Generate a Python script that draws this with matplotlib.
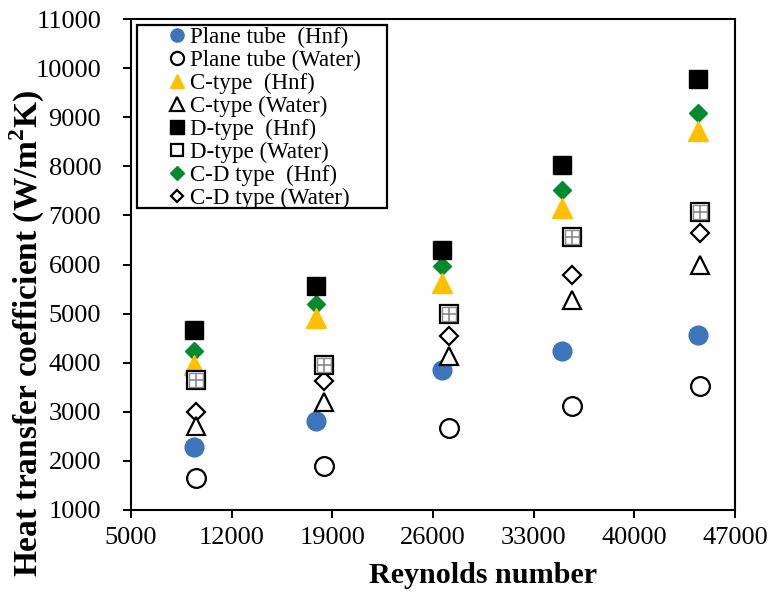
import matplotlib
matplotlib.use("Agg")
import matplotlib.pyplot as plt
from matplotlib.patches import Rectangle

plt.rcParams['font.family'] = ['Liberation Serif', 'DejaVu Serif']
plt.rcParams['mathtext.fontset'] = 'custom'
plt.rcParams['mathtext.rm'] = 'Liberation Serif'
plt.rcParams['mathtext.bf'] = 'Liberation Serif:bold'

re_hnf = [9350, 17850, 26600, 34950, 44450]
re_water = [9550, 18400, 27100, 35650, 44550]

plane_hnf = [2280, 2810, 3845, 4240, 4560]
plane_water = [1650, 1890, 2670, 3120, 3520]
c_hnf = [3950, 4920, 5630, 7150, 8720]
c_water = [2720, 3200, 4130, 5270, 5980]
d_hnf = [4660, 5560, 6300, 8020, 9780]
d_water = [3640, 3950, 5000, 6560, 7060]
cd_hnf = [4230, 5200, 5970, 7510, 9090]
cd_water = [2990, 3620, 4540, 5790, 6650]

labels = ["Plane tube  (Hnf)", "Plane tube (Water)", "C-type  (Hnf)", "C-type (Water)",
          "D-type  (Hnf)", "D-type (Water)", "C-D type  (Hnf)", "C-D type (Water)"]

xticks = [5000, 12000, 19000, 26000, 33000, 40000, 47000]
yticks = [1000, 2000, 3000, 4000, 5000, 6000, 7000, 8000, 9000, 10000, 11000]

blue = '#3C75B9'
gold = '#FFC000'
green = '#038A2F'

W, H = 771, 596
fig = plt.figure(figsize=(W / 100, H / 100), dpi=100)
ax = fig.add_axes([131 / W, 1 - 510 / H, 604 / W, 491 / H])

ms = 13.5
ew = 1.6
series = [
    (re_hnf, plane_hnf, dict(marker='o', color=blue, mec=blue, ms=ms)),
    (re_water, plane_water, dict(marker='o', mfc='white', mec='black', mew=ew, ms=ms)),
    (re_hnf, c_hnf, dict(marker='^', color=gold, mec=gold, ms=ms + 1)),
    (re_water, c_water, dict(marker='^', mfc='white', mec='black', mew=ew, ms=ms)),
    (re_hnf, d_hnf, dict(marker='s', color='black', mec='black', ms=ms)),
    (re_water, d_water, dict(marker='s', mfc='white', mec='black', mew=ew, ms=ms - 0.5)),
    (re_hnf, cd_hnf, dict(marker='D', color=green, mec=green, ms=ms - 4)),
    (re_water, cd_water, dict(marker='D', mfc='white', mec='black', mew=ew, ms=ms - 4.5)),
]

handles = []
order = [0, 1, 3, 7, 5, 6, 2, 4]
for i, (xs, ys, st) in enumerate(series):
    h, = ax.plot(xs, ys, linestyle='none', label=labels[i], zorder=3 + order[i], **st)
    handles.append(h)

# inner grey grid of the D-type water squares
ax.plot(re_water, d_water, linestyle='none', marker='s', ms=ms - 4, mew=1.0,
        mfc='none', mec='#8a8a8a', zorder=3 + order[5] + 0.4)
ax.plot(re_water, d_water, linestyle='none', marker='+', ms=ms - 4, mew=1.2,
        color='#8a8a8a', zorder=3 + order[5] + 0.5)

ax.set_xlim(5000, 47000)
ax.set_ylim(1000, 11000)
ax.set_xticks(xticks)
ax.set_yticks(yticks)
ax.set_xticklabels([str(t) for t in xticks])
ax.set_yticklabels([str(t) for t in yticks])
ax.tick_params(axis='both', labelsize=19, direction='out', length=5.5, width=1.4)
ax.tick_params(axis='x', pad=7)
ax.tick_params(axis='y', pad=16)
for s in ax.spines.values():
    s.set_linewidth(1.5)

fig.text(483 / W, 1 - 583 / H, 'Reynolds number', fontsize=21.7, fontweight='bold',
         ha='center', va='baseline')
fig.text(27 / W, 1 - 333 / H, r'Heat transfer coefficient (W/m$^{\mathbf{2}}$K)',
         fontsize=24, fontweight='bold', rotation=90, ha='center', va='center')

leg = fig.legend(handles=handles, loc='upper left',
                 bbox_to_anchor=(168 / W, 1 - 27 / H),
                 fontsize=16.5, markerscale=0.7, handlelength=0.8, handletextpad=0.15,
                 labelspacing=0.08, borderpad=0.0, borderaxespad=0.0, frameon=False)
fig.patches.append(Rectangle((137 / W, 1 - 208 / H), 250 / W, 183 / H,
                             transform=fig.transFigure, fill=True, facecolor='white',
                             edgecolor='black', linewidth=1.6, zorder=1))
leg.set_zorder(5)

fig.savefig('out.png', dpi=100)
